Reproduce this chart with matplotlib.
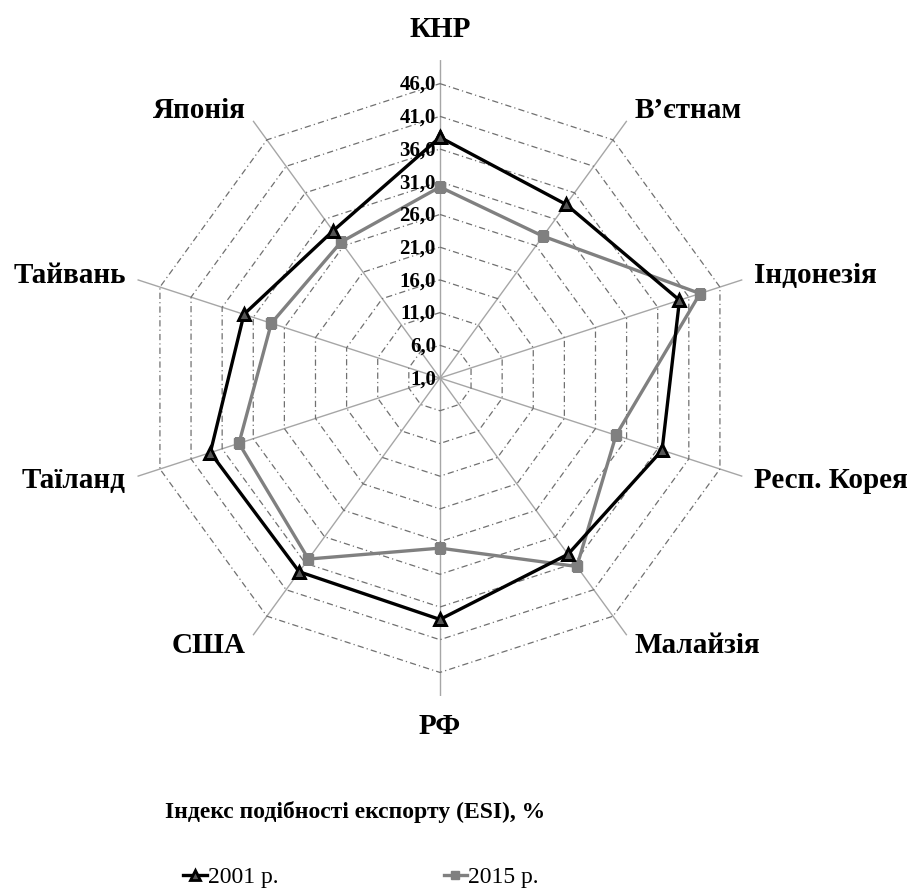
import numpy as np
import matplotlib.pyplot as plt
from matplotlib.lines import Line2D

########################################
# DATA
########################################
categories = ["КНР", "В’єтнам", "Індонезія", "Респ. Корея", "Малайзія",
              "РФ", "США", "Таїланд", "Тайвань", "Японія"]
esi_2001 = [37.8, 33.8, 39.5, 36.7, 34.3, 37.9, 37.6, 37.9, 32.5, 28.8]
esi_2015 = [30.2, 27.8, 42.8, 29.3, 36.6, 27.0, 35.2, 33.3, 28.1, 26.7]
r_ticks = [1, 6, 11, 16, 21, 26, 31, 36, 41, 46]
series_labels = ["2001 р.", "2015 р."]
title = "Індекс подібності експорту (ESI), %"

R_MIN, R_MAX = 1, 49.6
SERIF = ["Liberation Serif", "DejaVu Serif"]

########################################
# FIGURE
########################################
fig = plt.figure(figsize=(9.15, 8.92), dpi=100)
ax = fig.add_axes([0.1333, 0.2197, 0.695, 0.713], projection="polar")
ax.set_theta_zero_location("N")
ax.set_theta_direction(-1)
ax.set_ylim(R_MIN, R_MAX)
ax.grid(False)
ax.spines["polar"].set_visible(False)
ax.set_xticks([])
ax.set_yticks([])
ax.patch.set_alpha(0)

n = len(categories)
angles = np.linspace(0, 2 * np.pi, n, endpoint=False)
closed = np.append(angles, angles[0])

# spokes
for a in angles:
    ax.plot([a, a], [R_MIN, R_MAX], color="#a6a6a6", lw=1.0, zorder=1)

# decagon rings
for r in r_ticks[1:]:
    ax.plot(closed, [r] * (n + 1), color="#707070", lw=0.9,
            ls=(0, (5, 2.5, 1, 2.5)), zorder=1)

# radial tick labels
for r in r_ticks:
    ax.annotate(f"{r:.1f}".replace(".", ","), xy=(0, r), xytext=(-3, -1),
                textcoords="offset points", ha="right", va="center",
                fontsize=15, fontweight="bold", family=SERIF, zorder=5)

# series
v1 = np.append(esi_2001, esi_2001[0])
v2 = np.append(esi_2015, esi_2015[0])
ax.plot(closed, v2, color="#808080", lw=2.4, marker="s", markersize=7,
        markerfacecolor="#808080", markeredgecolor="#808080", zorder=3)
ax.plot(closed, v1, color="black", lw=2.4, marker="^", markersize=9,
        markerfacecolor="#555555", markeredgecolor="black",
        markeredgewidth=2, zorder=4)

# category labels
for a, name in zip(angles, categories):
    s = np.sin(a)
    if abs(s) < 1e-6:
        ha = "center"
        rr = 54.2
    else:
        ha = "left" if s > 0 else "right"
        rr = 51.5
    ax.text(a, rr, name, ha=ha, va="center", fontsize=21,
            fontweight="bold", family=SERIF, clip_on=False)

########################################
# TITLE + LEGEND
########################################
fig.text(355 / 915, 1 - 812 / 892, title, ha="center", va="center",
         fontsize=17, fontweight="bold", family=SERIF)

handles = [
    Line2D([], [], color="black", lw=2.4, marker="^", markersize=7,
           markerfacecolor="#555555", markeredgecolor="black", markeredgewidth=2),
    Line2D([], [], color="#808080", lw=2.4, marker="s", markersize=6,
           markerfacecolor="#808080", markeredgecolor="#808080"),
]
fig.legend(handles, series_labels, loc="center", ncol=2, frameon=False,
           bbox_to_anchor=(361 / 915, 1 - 877 / 892),
           handlelength=1.0, handletextpad=0.05, columnspacing=7.0,
           prop={"family": SERIF, "size": 17})

fig.savefig("out.png", dpi=100)
